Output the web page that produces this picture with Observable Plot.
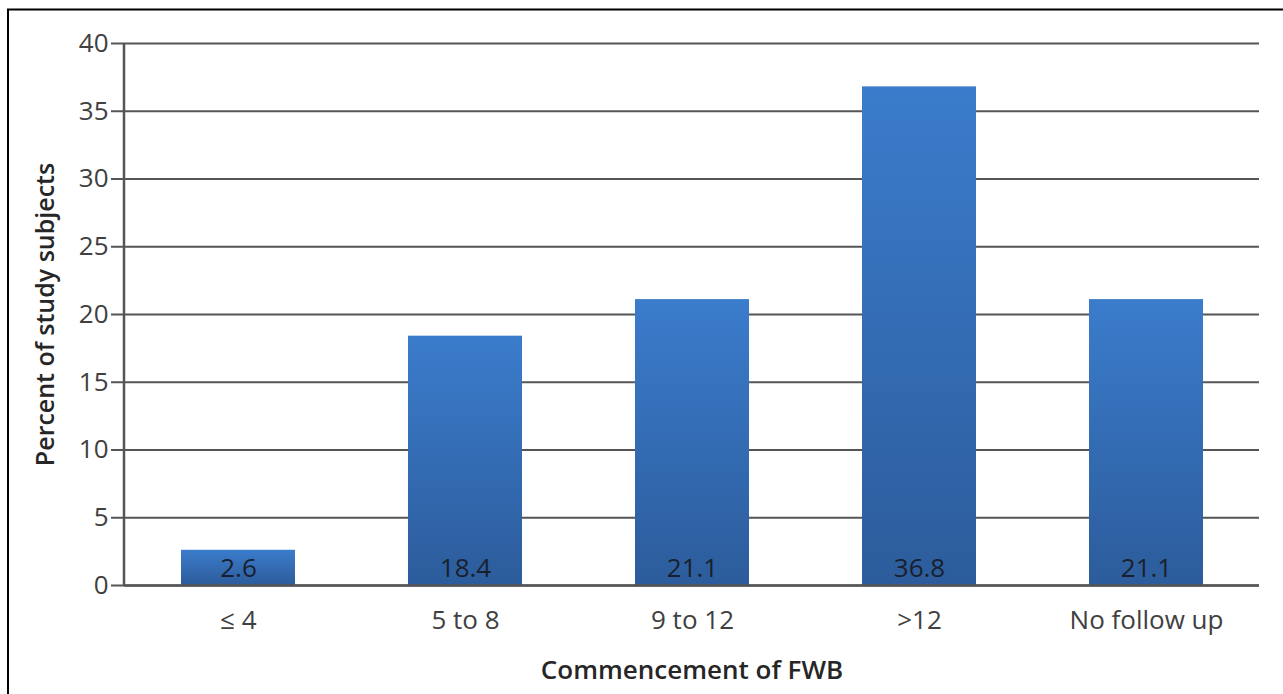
<!DOCTYPE html>
<html><head><meta charset="utf-8">
<script src="https://cdn.jsdelivr.net/npm/d3@7"></script>
<script src="https://cdn.jsdelivr.net/npm/@observablehq/plot@0.6"></script>
<style>
body{margin:0;background:#fff;}
#chart{position:relative;width:1283px;height:694px;}
#chart svg{font-family:"Open Sans",Lato,sans-serif;}
</style></head><body><div id="chart"></div>
<script>
const categories = ["≤ 4", "5 to 8", "9 to 12", ">12", "No follow up"];
const values = [2.6, 18.4, 21.1, 36.8, 21.1];
const yTicks = [0, 5, 10, 15, 20, 25, 30, 35, 40];
const labels = ["2.6", "18.4", "21.1", "36.8", "21.1"];
const xTitle = "Commencement of FWB";
const yTitle = "Percent of study subjects";

const data = categories.map((c, i) => ({cat: c, v: values[i], lab: labels[i]}));

const chart = Plot.plot({
  width: 1283, height: 694,
  marginLeft: 124, marginRight: 24, marginTop: 43, marginBottom: 109,
  style: {fontSize: "26px", color: "#404040", background: "#fff"},
  x: {domain: categories, paddingInner: 0.5, paddingOuter: 0.25},
  y: {domain: [0, 40]},
  marks: [
    Plot.gridY(yTicks, {stroke: "#555", strokeOpacity: 1, strokeWidth: 2}),
    Plot.axisY(yTicks, {tickSize: 13, tickPadding: 3, fontSize: 26, label: null, stroke: "#555", strokeWidth: 2, fill: "#404040"}),
    Plot.axisX({tickSize: 0, tickPadding: 25, fontSize: 26, label: null, fill: "#404040"}),
    Plot.barY(data, {x: "cat", y: "v", fill: "url(#barGrad)"}),
    Plot.ruleY([0], {stroke: "#555", strokeWidth: 2.5}),
    Plot.text(data, {x: "cat", y: 0, text: "lab", dy: -17, fill: "#1a1f2e", fontSize: 26}),
    Plot.text([xTitle], {frameAnchor: "bottom", dy: 93, fontSize: 26, fontWeight: 600, fill: "#262626"}),
    Plot.text([yTitle], {frameAnchor: "left", textAnchor: "middle", rotate: -90, dx: -79, fontSize: 25, fontWeight: 600, fill: "#262626"})
  ]
});

const svg = d3.select(chart);
const defs = svg.insert("defs", ":first-child");
const g = defs.append("linearGradient").attr("id", "barGrad").attr("x1", 0).attr("y1", 0).attr("x2", 0).attr("y2", 1);
g.append("stop").attr("offset", "0%").attr("stop-color", "#3b7ccc");
g.append("stop").attr("offset", "100%").attr("stop-color", "#2c5c9b");
const ys = chart.scale("y");
const x0 = 124;
svg.append("line").attr("x1", x0).attr("x2", x0).attr("y1", ys.apply(0)).attr("y2", ys.apply(40))
  .attr("stroke", "#555").attr("stroke-width", 2.5);
svg.append("path").attr("d", "M8,694 V9.5 H1283").attr("fill", "none").attr("stroke", "#000").attr("stroke-width", 2);
document.getElementById("chart").appendChild(chart);
</script></body></html>
